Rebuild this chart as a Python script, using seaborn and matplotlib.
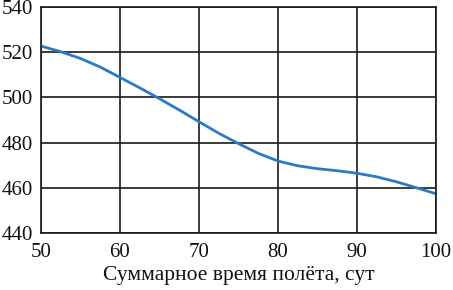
import numpy as np
import pandas as pd
import matplotlib
matplotlib.use("Agg")
import matplotlib.pyplot as plt
import seaborn as sns

# values
days = [50, 52.5, 55, 57.5, 60, 62.5, 65, 67.5, 70, 72.5, 75, 77.5, 80, 82.5, 85, 87.5, 90, 92.5, 95, 97.5, 100]
mass = [522.7, 520.2, 517.2, 513.4, 508.8, 504.2, 499.4, 494.4, 489.2, 484.1, 479.5, 475.2, 471.8, 469.7, 468.4, 467.5, 466.4, 464.8, 462.6, 460.0, 457.3]
xticks = [50, 60, 70, 80, 90, 100]
yticks = [440, 460, 480, 500, 520, 540]

df = pd.DataFrame({"days": days, "mass": mass})

sns.set_style("white")
plt.rcParams["font.family"] = ["Liberation Serif", "DejaVu Serif"]

fig, ax = plt.subplots(figsize=(4.53, 2.90), dpi=100)
sns.lineplot(data=df, x="days", y="mass", ax=ax, color="#2b7bc4", linewidth=2.0)

ax.set_xlim(50, 100)
ax.set_ylim(440, 540)
ax.set_xticks(xticks)
ax.set_yticks(yticks)
ax.grid(True, color="#1a1a1a", linewidth=1.2)
for s in ax.spines.values():
    s.set_color("#1a1a1a")
    s.set_linewidth(1.2)
ax.tick_params(axis="both", direction="out", length=3.5, width=1.2, color="#1a1a1a",
               labelsize=15, pad=2, labelcolor="#111111")
ax.tick_params(axis="x", pad=3.5)
ax.set_xlabel("Суммарное время полёта, сут", fontsize=15.5, labelpad=3, color="#111111")
ax.set_ylabel("")

fig.subplots_adjust(left=0.0905, right=0.9625, top=0.976, bottom=0.197)
fig.savefig("out.png", dpi=100)
